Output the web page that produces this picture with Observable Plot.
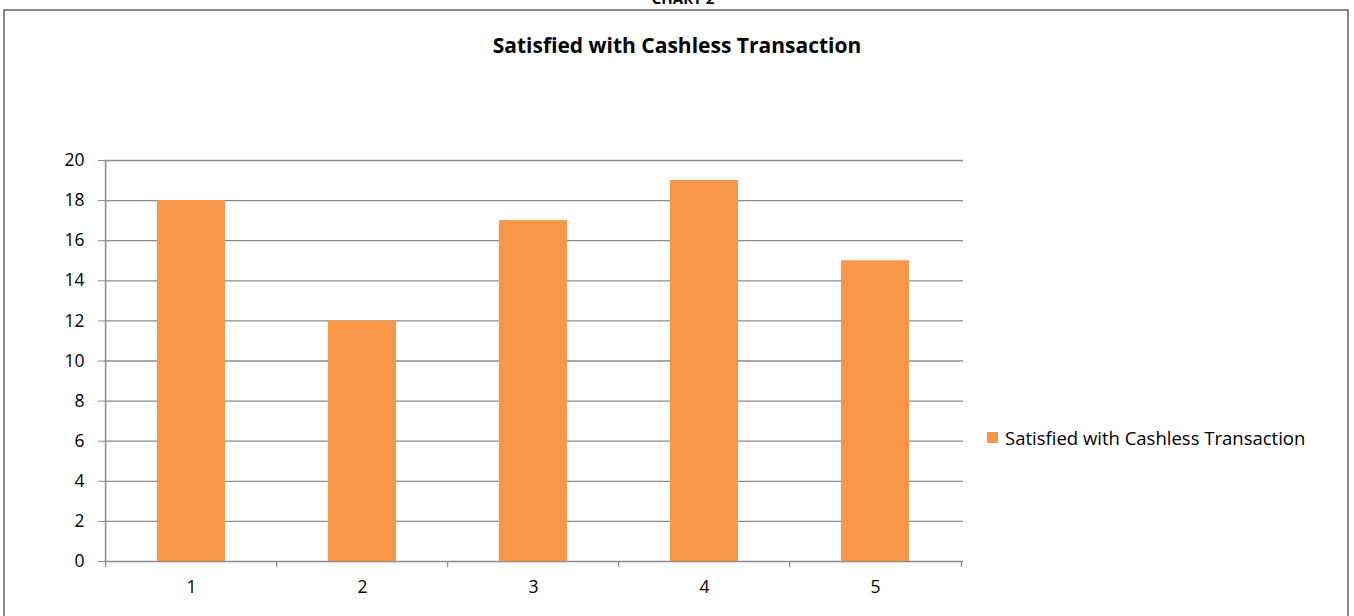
<!DOCTYPE html>
<html>
<head>
<meta charset="utf-8">
<script src="https://cdn.jsdelivr.net/npm/d3@7"></script>
<script src="https://cdn.jsdelivr.net/npm/@observablehq/plot@0.6"></script>
<style>
  html, body { margin: 0; padding: 0; background: #fff; overflow: hidden; }
  #wrap { position: relative; width: 1354px; height: 616px; font-family: "Open Sans", Lato, sans-serif; color: #000; }
  #frame { position: absolute; left: 3px; top: 9px; width: 1346px; height: 620px; border: 2px solid #8a8a8a; box-sizing: border-box; }
  #chartno { position: absolute; left: 0; width: 1366px; top: -12px; text-align: center; font-weight: bold; font-size: 15px; }
  #title { position: absolute; left: 0; width: 1354px; top: 31px; text-align: center; font-weight: bold; font-size: 21px; }
  #plot { position: absolute; left: 0; top: 130px; }
  #plot svg text { font-size: 17.5px; font-family: "Open Sans", Lato, sans-serif; fill: #000; }
  #legend { position: absolute; left: 987px; top: 425px; font-size: 18.5px; display: flex; align-items: center; }
  #legend .sw { width: 11px; height: 11px; background: #F79646; margin-right: 7px; }
</style>
</head>
<body>
<div id="wrap">
  <div id="frame"></div>
  <div id="chartno">CHART 2</div>
  <div id="title">Satisfied with Cashless Transaction</div>
  <div id="plot"></div>
  <div id="legend"><span class="sw"></span><span>Satisfied with Cashless Transaction</span></div>
</div>
<script>
const categories = ["1", "2", "3", "4", "5"];
const values = [18, 12, 17, 19, 15];
const yTicks = [0, 2, 4, 6, 8, 10, 12, 14, 16, 18, 20];
const seriesName = "Satisfied with Cashless Transaction";

const data = categories.map((c, i) => ({category: c, value: values[i]}));

const W = 1354, ML = 104, MR = W - 963;
const step = (W - ML - MR) / categories.length;
const gridColor = "#8c8c8c";

const chart = Plot.plot({
  width: W,
  height: 481,
  marginLeft: ML,
  marginRight: MR,
  marginTop: 30,
  marginBottom: 50,
  style: { background: "transparent" },
  x: { domain: categories, paddingInner: 0.6, paddingOuter: 0.3, label: null },
  y: { domain: [0, 20], label: null },
  marks: [
    Plot.ruleY(yTicks, { stroke: gridColor, strokeWidth: 1.3 }),
    Plot.axisY({ ticks: yTicks, tickSize: 6, tickPadding: 14, stroke: gridColor, label: null }),
    Plot.ruleX([categories[0]], { x: d => d, dx: -step / 2, y1: 0, y2: 20, stroke: gridColor, strokeWidth: 1.5 }),
    Plot.ruleX(categories, { x: d => d, dx: -step / 2, y1: 0, y2: 0, insetBottom: -6, stroke: gridColor, strokeWidth: 1.3 }),
    Plot.ruleX([categories[categories.length - 1]], { x: d => d, dx: step / 2, y1: 0, y2: 0, insetBottom: -6, stroke: gridColor, strokeWidth: 1.3 }),
    Plot.barY(data, { x: "category", y: "value", fill: "#F79646", title: d => `${seriesName}: ${d.value}` }),
    Plot.axisX({ tickSize: 0, tickPadding: 19, label: null })
  ]
});
document.getElementById("plot").appendChild(chart);
</script>
</body>
</html>
